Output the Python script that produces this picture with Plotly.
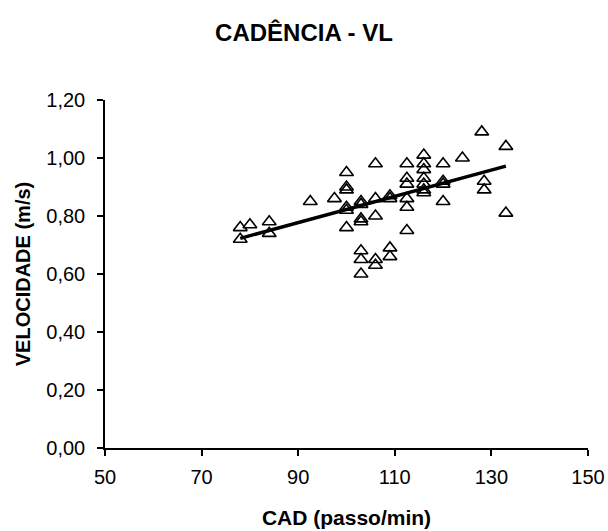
import plotly.graph_objects as go

cad = [78, 78, 80, 84, 84, 92.5, 97.5,
       100, 100, 100, 100, 100, 100,
       103, 103, 103, 103, 103, 103, 103,
       106, 106, 106, 106, 106,
       109, 109, 109, 109,
       112.5, 112.5, 112.5, 112.5, 112.5, 112.5,
       116, 116, 116, 116, 116, 116, 116,
       120, 120, 120, 120,
       124, 128, 128.5, 128.5, 133, 133]
vel = [0.76, 0.72, 0.77, 0.78, 0.74, 0.85, 0.86,
       0.95, 0.90, 0.89, 0.82, 0.83, 0.76,
       0.85, 0.84, 0.79, 0.78, 0.68, 0.65, 0.60,
       0.98, 0.86, 0.80, 0.65, 0.63,
       0.87, 0.86, 0.69, 0.66,
       0.98, 0.93, 0.91, 0.86, 0.83, 0.75,
       1.01, 0.98, 0.96, 0.93, 0.91, 0.89, 0.88,
       0.98, 0.92, 0.91, 0.85,
       1.00, 1.09, 0.92, 0.89, 1.04, 0.81]

trend_x = [78, 133]
trend_y = [0.723, 0.972]

x_ticks = [50, 70, 90, 110, 130, 150]
y_ticks = [0.0, 0.2, 0.4, 0.6, 0.8, 1.0, 1.2]

font = "Liberation Sans, Arial, sans-serif"

fig = go.Figure()
fig.add_trace(go.Scatter(
    x=cad, y=vel, mode="markers",
    marker=dict(symbol="triangle-up-open", size=12, color="black",
                line=dict(color="black", width=1.6)),
    showlegend=False, hoverinfo="x+y"))
fig.add_trace(go.Scatter(
    x=trend_x, y=trend_y, mode="lines",
    line=dict(color="black", width=3.5), showlegend=False))

fig.update_layout(
    width=608, height=531,
    paper_bgcolor="white", plot_bgcolor="white",
    margin=dict(l=105, r=20, t=100, b=83),
    separators=",.",
    font=dict(family=font, color="black", size=20),
    title=dict(text="<b>CADÊNCIA - VL</b>", x=0.5, xanchor="center",
               y=1 - 33 / 531, yanchor="middle",
               font=dict(family=font, size=24, color="black")),
)
fig.update_xaxes(
    range=[50, 150], tickvals=x_ticks, ticktext=[str(v) for v in x_ticks],
    showline=True, linecolor="black", linewidth=1.5,
    ticks="outside", ticklen=6, tickcolor="black", tickwidth=1.5,
    showgrid=False, zeroline=False, ticklabelstandoff=4, automargin=False,
    tickfont=dict(family=font, size=20, color="black"),
    title=dict(text="<b>CAD (passo/min)</b>", standoff=24,
               font=dict(family=font, size=21, color="black")))
fig.update_yaxes(
    range=[0, 1.2], tickvals=y_ticks, tickformat=".2f",
    showline=True, linecolor="black", linewidth=1.5,
    ticks="outside", ticklen=6, tickcolor="black", tickwidth=1.5,
    showgrid=False, zeroline=False, ticklabelstandoff=8, automargin=False,
    tickfont=dict(family=font, size=20, color="black"),
    title=dict(text="<b>VELOCIDADE (m/s)</b>", standoff=10,
               font=dict(family=font, size=20, color="black")))

fig.write_html("out.html")
